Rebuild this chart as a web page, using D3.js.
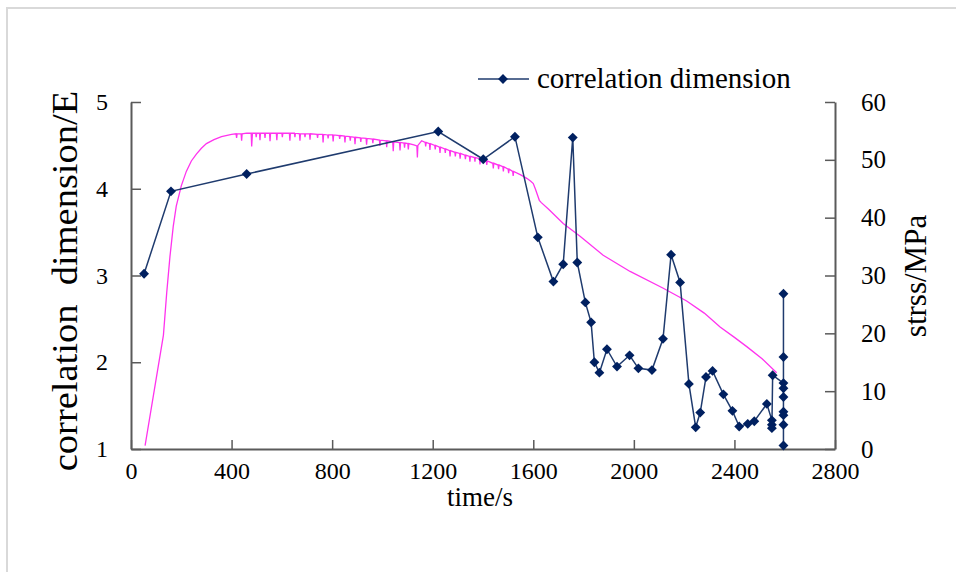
<!DOCTYPE html>
<html>
<head>
<meta charset="utf-8">
<script src="https://cdn.jsdelivr.net/npm/d3@7"></script>
<style>
  html, body { margin: 0; padding: 0; background: #fff; }
  svg { display: block; }
  text { font-family: "Liberation Serif", "Times New Roman", serif; fill: #000; }
</style>
</head>
<body>
<svg id="chart" width="956" height="572"></svg>
<script>
// Correlation dimension over time (time in s, dimension E)
const corrTime = [52, 159, 460, 1222, 1401, 1527, 1618, 1680, 1719, 1757, 1775, 1807, 1830, 1843,
  1863, 1893, 1933, 1983, 2018, 2072, 2116, 2148, 2184, 2219, 2246, 2264, 2287, 2313, 2356,
  2392, 2419, 2453, 2479, 2529, 2549, 2549, 2549, 2552, 2595, 2595, 2595, 2595, 2595, 2595,
  2595, 2595, 2595];
const corrValue = [3.02, 3.97, 4.17, 4.66, 4.34, 4.60, 3.44, 2.93, 3.13, 4.59, 3.15, 2.69, 2.46, 2.00,
  1.88, 2.15, 1.95, 2.08, 1.93, 1.91, 2.27, 3.24, 2.92, 1.75, 1.25, 1.42, 1.83, 1.90, 1.63,
  1.44, 1.26, 1.29, 1.32, 1.52, 1.33, 1.28, 1.24, 1.85, 1.76, 1.70, 1.60, 1.43, 1.39,
  1.28, 1.04, 2.06, 2.79];

// Stress record (time in s, stress in MPa)
const stressTime = [56, 90, 129, 142, 155, 168, 180, 200, 220, 240, 260, 280, 300, 330, 360, 400,
  418, 420, 422, 438, 440, 442, 460, 478, 480, 483, 496, 498, 500, 511, 513, 515, 531, 533, 535,
  551, 553, 555, 578, 580, 582, 600, 602, 604, 630, 632, 634, 650, 652, 654,
  670, 672, 674, 690, 692, 694, 710, 712, 714, 740, 742, 744, 762, 764, 766, 782, 784, 786,
  802, 804, 806, 828, 830, 832, 849, 851, 853, 870, 872, 874, 889, 891, 893, 912, 914, 916,
  935, 937, 939, 960, 962, 964, 988, 990, 992, 1015, 1017, 1019, 1041, 1043, 1045, 1068, 1070, 1072,
  1086, 1088, 1090, 1101, 1103, 1105, 1125, 1137, 1139, 1141, 1156, 1170, 1172, 1174, 1187, 1189, 1191,
  1208, 1210, 1212, 1227, 1229, 1231, 1248, 1250, 1252,
  1267, 1269, 1271, 1288, 1290, 1292, 1307, 1309, 1311, 1328, 1330, 1332, 1346, 1348, 1350,
  1366, 1368, 1370, 1386, 1388, 1390, 1413, 1415, 1417, 1439, 1441, 1443, 1460, 1462, 1464,
  1479, 1481, 1483, 1500, 1502, 1504, 1518, 1520, 1522, 1550, 1574, 1590, 1600, 1608, 1616, 1624, 1632, 1660,
  1719, 1786, 1878, 1985, 2117, 2210, 2280, 2343, 2400, 2449, 2510, 2568];
const stressValue = [0.6, 9.5, 19.7, 27, 33.3, 38.5, 42, 45.5, 48, 49.8, 51, 52, 52.8, 53.5, 54, 54.4,
  54.5, 53.8, 54.5, 54.5, 53.3, 54.5, 54.6, 54.6, 52.3, 54.6, 54.6, 53.9, 54.6, 54.6, 53.4, 54.6, 54.6, 53.8, 54.6,
  54.6, 53.2, 54.6, 54.6, 53.4, 54.6, 54.6, 53.9, 54.6, 54.6, 53.3, 54.6, 54.6, 53.9, 54.6,
  54.5, 53.3, 54.5, 54.5, 53.9, 54.5, 54.5, 53.5, 54.5, 54.4, 53.8, 54.4, 54.4, 53.0, 54.4, 54.3, 53.7, 54.3,
  54.3, 53.2, 54.3, 54.2, 53.6, 54.2, 54.1, 53.0, 54.1, 54.0, 53.3, 54.0, 53.9, 52.7, 53.9, 53.8, 53.1, 53.8,
  53.7, 52.6, 53.7, 53.6, 52.9, 53.6, 53.4, 52.4, 53.4, 53.3, 52.2, 53.3, 53.1, 51.5, 53.1, 53.0, 51.6, 53.0,
  52.9, 52.1, 52.9, 52.8, 51.8, 52.8, 52.6, 52.4, 50.4, 52.5, 53.3, 53.0, 52.3, 53.0, 52.8, 51.7, 52.8,
  52.5, 51.8, 52.5, 52.2, 51.2, 52.2, 51.9, 51.2, 51.9,
  51.6, 50.6, 51.6, 51.3, 50.6, 51.3, 51.1, 50.2, 51.1, 50.8, 50.1, 50.8, 50.6, 49.7, 50.6,
  50.4, 49.7, 50.4, 50.2, 49.2, 50.2, 49.8, 49.1, 49.8, 49.4, 48.5, 49.4, 49.1, 48.4, 49.1,
  48.8, 48.0, 48.8, 48.4, 47.7, 48.4, 48.0, 47.2, 48.0, 47.4, 46.8, 46.3, 45.9, 45.0, 44.0, 43.0, 42.6, 41.5,
  39.0, 36.8, 33.5, 30.7, 27.8, 25.6, 23.5, 21.1, 19.3, 17.7, 15.6, 13.2];

// Axis ticks
const timeTicks = [0, 400, 800, 1200, 1600, 2000, 2400, 2800];
const dimTicks = [1, 2, 3, 4, 5];
const stressTicks = [0, 10, 20, 30, 40, 50, 60];

const svg = d3.select("#chart");
const plot = { left: 131, right: 835, top: 102, bottom: 449 };

const x = d3.scaleLinear().domain([0, 2800]).range([plot.left, plot.right]);
const yDim = d3.scaleLinear().domain([1, 5]).range([plot.bottom, plot.top]);
const yStress = d3.scaleLinear().domain([0, 60]).range([plot.bottom, plot.top]);

// Outer frame
svg.append("rect").attr("x", 7).attr("y", 8).attr("width", 1000).attr("height", 1000)
  .attr("fill", "none").attr("stroke", "#d9d9d9").attr("stroke-width", 2);

const axisColor = "#5a5a5a";
function styleAxis(g) {
  g.selectAll("path").attr("stroke", axisColor).attr("stroke-width", 2);
  g.selectAll("line").attr("stroke", axisColor).attr("stroke-width", 1.5);
  g.selectAll("text").attr("font-family", "Liberation Serif").attr("fill", "#000");
}

// Bottom axis (ticks drawn inward)
const gx = svg.append("g").attr("transform", `translate(0,${plot.bottom})`)
  .call(d3.axisBottom(x).tickValues(timeTicks).tickFormat(d3.format("d"))
    .tickSizeInner(-9).tickSizeOuter(0).tickPadding(13));
styleAxis(gx);
gx.selectAll("text").attr("font-size", 24).attr("dy", "0.71em");

// Left axis
const gyl = svg.append("g").attr("transform", `translate(${plot.left},0)`)
  .call(d3.axisLeft(yDim).tickValues(dimTicks).tickFormat(d3.format("d"))
    .tickSizeInner(-10).tickSizeOuter(0).tickPadding(23));
styleAxis(gyl);
gyl.selectAll("text").attr("font-size", 24);

// Right axis
const gyr = svg.append("g").attr("transform", `translate(${plot.right},0)`)
  .call(d3.axisRight(yStress).tickValues(stressTicks)
    .tickSizeInner(-10).tickSizeOuter(0).tickPadding(26));
styleAxis(gyr);
gyr.selectAll("text").attr("font-size", 25);

// Stress curve
const stressData = stressTime.map((t, i) => [t, stressValue[i]]);
svg.append("path").datum(stressData)
  .attr("fill", "none").attr("stroke", "#ff33ee").attr("stroke-width", 1.3)
  .attr("d", d3.line().x(d => x(d[0])).y(d => yStress(d[1])));

// Correlation dimension line with diamond markers
const corrData = corrTime.map((t, i) => [t, corrValue[i]]);
const navy = "#002060";
svg.append("path").datum(corrData)
  .attr("fill", "none").attr("stroke", "#1f3b6e").attr("stroke-width", 1.5)
  .attr("d", d3.line().x(d => x(d[0])).y(d => yDim(d[1])));

const diamond = d3.symbol().type(d3.symbolDiamond2).size(62);
svg.append("g").selectAll("path").data(corrData).join("path")
  .attr("d", diamond)
  .attr("transform", d => `translate(${x(d[0])},${yDim(d[1])})`)
  .attr("fill", navy);

// Legend
const lg = svg.append("g");
lg.append("line").attr("x1", 478).attr("x2", 529).attr("y1", 79).attr("y2", 79)
  .attr("stroke", "#1f3b6e").attr("stroke-width", 1.5);
lg.append("path").attr("d", diamond).attr("transform", "translate(503,79)").attr("fill", navy);
lg.append("text").attr("x", 537).attr("y", 88).attr("font-size", 29).text("correlation dimension");

// Axis titles
svg.append("text").attr("x", 480).attr("y", 506).attr("text-anchor", "middle")
  .attr("font-size", 27).text("time/s");

svg.append("text")
  .attr("transform", "translate(77,281) rotate(-90) scale(1.1,1)")
  .attr("text-anchor", "middle").attr("font-size", 35)
  .style("white-space", "pre")
  .text("correlation  dimension/E");

svg.append("text")
  .attr("transform", "translate(926,276) rotate(-90)")
  .attr("text-anchor", "middle").attr("font-size", 31)
  .text("strss/MPa");
</script>
</body>
</html>
